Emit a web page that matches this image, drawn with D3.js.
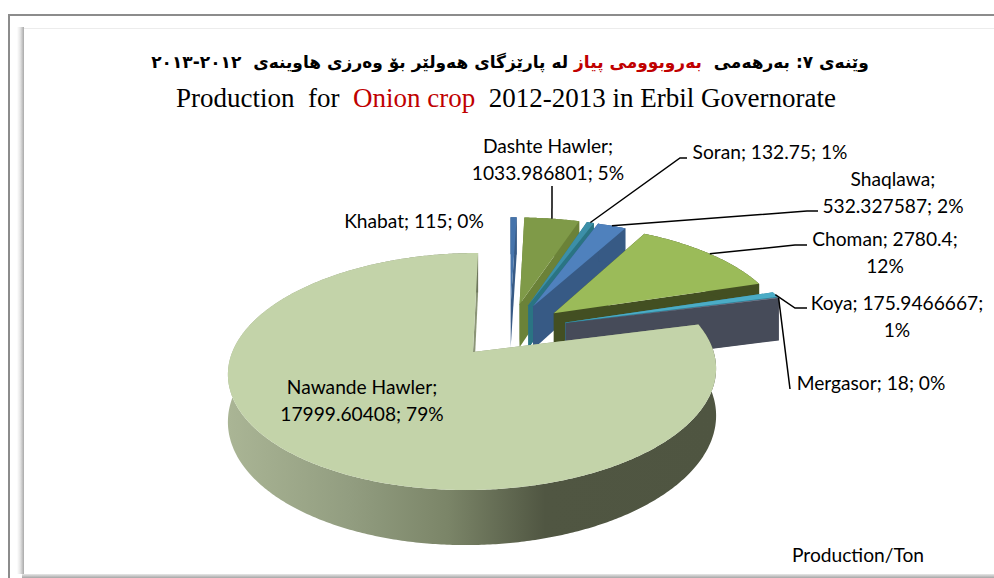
<!DOCTYPE html>
<html>
<head>
	<meta charset="utf-8">
	<title>Production for Onion crop</title>
	<script src="https://d3js.org/d3.v7.min.js" charset="utf-8"></script>
	<style>
		html,body{margin:0;padding:0;background:#fff;overflow:hidden}
		text{white-space:pre}
	</style>
</head>
<body>
	<script>
	var names=["Khabat","Dashte Hawler","Soran","Shaqlawa","Choman","Koya","Mergasor","Nawande Hawler"];
	var production=[115,1033.986801,132.75,532.327587,2780.4,175.9466667,18,17999.60408];
	var percents=[0,5,1,2,12,1,0,79];
	var topColors=["#4674ab","#7f9a48","#3c8fa8","#4f81bd","#9bbb59","#4bacc6","#8a90a6","#c3d3a9"];
	var sideColors=["#375a85","#6b8238","#2a7483","#375a85","#434f22","#2f7f96","#464b59","#8b9577"];

	var w=994;
	var h=578;
	// pie plane: perspective ellipse around the apex of the big slice
	var x0=473, y0=352, radX=240.7, radY=115.3, persp=0.1646, skew=36, depth=46, explode=0.25;

	// label layout: anchor centre, first baseline, where the line breaks (1 after name, 2 after value, 0 none), elbow of the leader
	var labelX=[414,548,770,893,885,897,871,362];
	var labelY=[228,153,159,186,246,310,390,394];
	var labelBreak=[0,1,0,1,2,2,0,1];
	var leaderBends=[null,[[552,186]],[[680,158],[687,158]],[[807,211],[818,211]],[[795,245],[807,245]],[[795,308],[807,308]],[[790,389]],null];
	var lineGap=26.5;

	var svg=d3.select("body").append("svg").attr("width",w).attr("height",h).style("display","block");
	var defs=svg.append("defs");

	function grad(id,attrs,stops){
		var g=defs.append("linearGradient").attr("id",id);
		Object.keys(attrs).forEach(function(k){g.attr(k,attrs[k]);});
		stops.forEach(function(s){g.append("stop").attr("offset",s[0]).attr("stop-color",s[1]);});
	}
	grad("bevelLeft",{x1:0,x2:1,y1:0,y2:0},[[0,"#ffffff"],[0.45,"#e6e6e6"],[1,"#a9a9a9"]]);
	grad("bevelBottom",{x1:0,x2:0,y1:0,y2:1},[[0,"#e8e8e8"],[1,"#a6a6a6"]]);
	grad("mainSide",{gradientUnits:"userSpaceOnUse",x1:228,x2:716,y1:0,y2:0},[[0,"#aab595"],[0.25,"#929d80"],[0.45,"#7b8568"],[0.65,"#505642"],[1,"#4f5541"]]);

	// picture frame
	svg.append("rect").attr("x",8).attr("y",14).attr("width",2).attr("height",h-14).attr("fill","#8c8c8c");
	svg.append("rect").attr("x",8).attr("y",14).attr("width",w-8).attr("height",2).attr("fill","#8c8c8c");
	svg.append("rect").attr("x",24).attr("y",28).attr("width",w-24).attr("height",1).attr("fill","#ececec");
	svg.append("rect").attr("x",17).attr("y",27).attr("width",7).attr("height",h-31).attr("fill","url(#bevelLeft)");
	svg.append("rect").attr("x",22).attr("y",574).attr("width",w-22).attr("height",4).attr("fill","url(#bevelBottom)");

	// titles
	var title=svg.append("text").attr("x",510).attr("y",68).attr("text-anchor","middle").attr("direction","rtl")
		.attr("font-family","'DejaVu Sans'").attr("font-weight","bold").attr("font-size",17);
	title.append("tspan").text("وێنەی ٧: بەرهەمی  ");
	title.append("tspan").attr("fill","#c00000").text("بەروبوومی پیاز");
	title.append("tspan").text(" له پارێزگای هەولێر بۆ وەرزی هاوینەی  ٢٠١٢-٢٠١٣");

	var sub=svg.append("text").attr("x",506).attr("y",107).attr("text-anchor","middle")
		.attr("font-family","'Liberation Serif'").attr("font-size",27);
	sub.append("tspan").text("Production  for  ");
	sub.append("tspan").attr("fill","#c00000").text("Onion crop");
	sub.append("tspan").text("  2012-2013 in Erbil Governorate");

	var arcs=d3.pie().sort(null).startAngle(0).endAngle(2*Math.PI)(production);
	var mainMid=(arcs[7].startAngle+arcs[7].endAngle)/2;
	var centreU=-explode*Math.sin(mainMid), centreV=-explode*Math.cos(mainMid);

	function project(u,v,z){
		var p=1/(1+persp*v);
		return [x0+skew+(radX*u-skew)*p, y0+(-radY*v+depth*z)*p];
	}
	function apexOf(d){
		var m=(d.startAngle+d.endAngle)/2;
		return [centreU+explode*Math.sin(m),centreV+explode*Math.cos(m)];
	}
	function rimAt(d,t,z){
		var a=apexOf(d);
		return project(a[0]+Math.sin(t),a[1]+Math.cos(t),z);
	}
	function angles(d){
		var n=Math.max(2,Math.ceil((d.endAngle-d.startAngle)/0.01));
		return d3.range(n+1).map(function(i){return d.startAngle+(d.endAngle-d.startAngle)*i/n;});
	}
	var line=d3.line();

	function topPath(d){
		var a=apexOf(d);
		return line([project(a[0],a[1],0)].concat(angles(d).map(function(t){return rimAt(d,t,0);})))+"Z";
	}
	function radialWall(d,t){
		var a=apexOf(d);
		return line([project(a[0],a[1],0),rimAt(d,t,0),rimAt(d,t,1),project(a[0],a[1],1)])+"Z";
	}
	function outerWall(d){
		var ts=angles(d);
		var up=ts.map(function(t){return rimAt(d,t,0);});
		var down=ts.slice().reverse().map(function(t){return rimAt(d,t,1);});
		return line(up.concat(down))+"Z";
	}

	var slices=svg.selectAll("g.slice").data(arcs).enter().append("g").attr("class","slice");
	slices.append("path").attr("d",function(d){return radialWall(d,d.startAngle);}).attr("fill",function(d,i){return sideColors[i];});
	slices.append("path").attr("d",function(d){return radialWall(d,d.endAngle);}).attr("fill",function(d,i){return sideColors[i];});
	slices.append("path").attr("d",outerWall).attr("fill",function(d,i){return i==7?"url(#mainSide)":sideColors[i];});
	slices.append("path").attr("d",topPath).attr("fill",function(d,i){return topColors[i];});

	// leaders
	arcs.forEach(function(d,i){
		if(!leaderBends[i]) return;
		var m=(d.startAngle+d.endAngle)/2;
		svg.append("path").attr("d",line([rimAt(d,m,0)].concat(leaderBends[i])))
			.attr("fill","none").attr("stroke","#000").attr("stroke-width",1.5);
	});

	// data labels
	names.forEach(function(n,i){
		var v=production[i], p=percents[i]+"%", rows;
		if(labelBreak[i]==1) rows=[n+";",v+"; "+p];
		else if(labelBreak[i]==2) rows=[n+"; "+v+";",p];
		else rows=[n+"; "+v+"; "+p];
		rows.forEach(function(r,k){
			svg.append("text").attr("x",labelX[i]).attr("y",labelY[i]+k*lineGap).attr("text-anchor","middle")
				.attr("font-family","Lato").attr("font-size",19.2).attr("fill","#000").text(r);
		});
	});

	svg.append("text").attr("x",858).attr("y",562).attr("text-anchor","middle")
		.attr("font-family","Lato").attr("font-size",19.2).attr("fill","#000").text("Production/Ton");
	</script>
</body>
</html>
